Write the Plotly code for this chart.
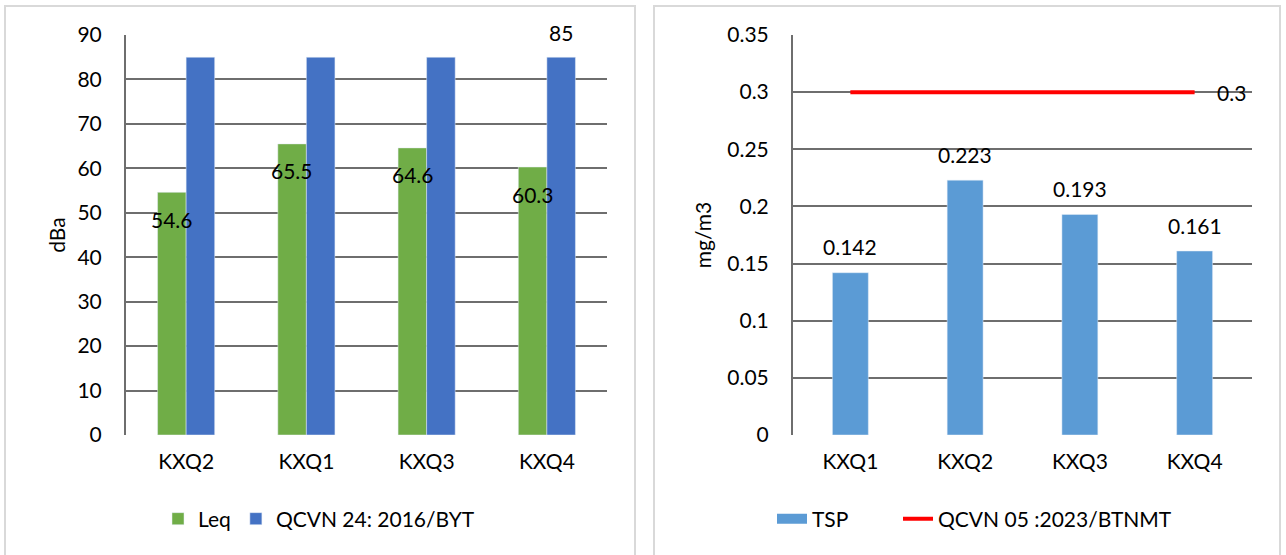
import plotly.graph_objects as go

# ---- data ----
noise_sites = ["KXQ2", "KXQ1", "KXQ3", "KXQ4"]
leq_values = [54.6, 65.5, 64.6, 60.3]
qcvn24_values = [85, 85, 85, 85]
noise_ticks = [0, 10, 20, 30, 40, 50, 60, 70, 80, 90]

tsp_sites = ["KXQ1", "KXQ2", "KXQ3", "KXQ4"]
tsp_values = [0.142, 0.223, 0.193, 0.161]
qcvn05_values = [0.3, 0.3, 0.3, 0.3]
tsp_ticks = [0, 0.05, 0.1, 0.15, 0.2, 0.25, 0.3, 0.35]
tsp_tick_text = ["0", "0.05", "0.1", "0.15", "0.2", "0.25", "0.3", "0.35"]

W, H = 1286, 555
FONT = "Lato"
FS = 21
TXT = "#000000"
GRID = "#6e6e6e"
GREEN = "#70AD47"
BLUE = "#4472C4"
LBLUE = "#5B9BD5"
RED = "#FF0000"

def px(x):
    return x / W

def py(y):
    return 1 - y / H

fig = go.Figure()

# left chart
fig.add_trace(go.Bar(x=noise_sites, y=leq_values, name="Leq", marker_color=GREEN,
                     xaxis="x", yaxis="y", legend="legend"))
fig.add_trace(go.Bar(x=noise_sites, y=qcvn24_values, name="QCVN 24: 2016/BYT",
                     marker_color=BLUE, xaxis="x", yaxis="y", legend="legend"))

# right chart
fig.add_trace(go.Bar(x=tsp_sites, y=tsp_values, name="TSP", marker_color=LBLUE,
                     width=0.313, xaxis="x2", yaxis="y2", showlegend=False))
fig.add_trace(go.Scatter(x=[None], y=[None], mode="lines", name="TSP",
                         line=dict(color=LBLUE, width=13), xaxis="x2", yaxis="y2",
                         legend="legend2", hoverinfo="skip"))
fig.add_trace(go.Scatter(x=tsp_sites, y=qcvn05_values, mode="lines",
                         name="QCVN 05 :2023/BTNMT", line=dict(color=RED, width=4),
                         xaxis="x2", yaxis="y2", legend="legend3"))

lab_font = dict(family=FONT, size=FS, color=TXT)
annotations = []
for s, v in zip(noise_sites, leq_values):
    annotations.append(dict(x=s, y=v, xref="x", yref="y", text=f"{v}", showarrow=False,
                            xshift=-14, yshift=-27, font=lab_font))
annotations.append(dict(x=noise_sites[-1], y=qcvn24_values[-1], xref="x", yref="y",
                        text=f"{qcvn24_values[-1]}", showarrow=False, xshift=14, yshift=25,
                        font=lab_font))
for s, v in zip(tsp_sites, tsp_values):
    annotations.append(dict(x=s, y=v, xref="x2", yref="y2", text=f"{v}", showarrow=False,
                            yshift=26, font=lab_font))
annotations.append(dict(x=tsp_sites[-1], y=qcvn05_values[-1], xref="x2", yref="y2",
                        text=f"{qcvn05_values[-1]}", showarrow=False, xshift=37,
                        font=lab_font))

shapes = [
    dict(type="rect", xref="paper", yref="paper", x0=px(5), x1=px(635), y0=py(570), y1=py(6),
         line=dict(color="#D9D9D9", width=2), fillcolor="rgba(0,0,0,0)", layer="below"),
    dict(type="rect", xref="paper", yref="paper", x0=px(654), x1=px(1280), y0=py(570), y1=py(6),
         line=dict(color="#D9D9D9", width=2), fillcolor="rgba(0,0,0,0)", layer="below"),
]

yaxis_common = dict(showgrid=True, gridcolor=GRID, gridwidth=2, zeroline=False,
                    tickfont=lab_font, ticks="", fixedrange=True, automargin=False,
                    showline=True, linecolor=GRID, linewidth=2, ticklabelstandoff=18)
xaxis_common = dict(showgrid=False, showline=False, tickfont=lab_font, ticklabelstandoff=12,
                    ticks="", automargin=False, fixedrange=True)
leg_common = dict(orientation="h", yanchor="middle", xanchor="left", font=lab_font,
                  bgcolor="rgba(0,0,0,0)", itemclick=False, itemdoubleclick=False)

fig.update_layout(
    width=W, height=H, autosize=False,
    margin=dict(l=0, r=0, t=0, b=0, autoexpand=False),
    paper_bgcolor="white", plot_bgcolor="white",
    font=lab_font,
    barmode="group", bargap=0.525,
    annotations=annotations, shapes=shapes,
    xaxis=dict(domain=[px(126), px(607)], anchor="y", **xaxis_common),
    yaxis=dict(domain=[py(435), py(35)], anchor="x", range=[0, 90], tickvals=noise_ticks,
               title=dict(text="dBa", font=lab_font, standoff=6), **yaxis_common),
    xaxis2=dict(domain=[px(793), px(1252)], anchor="y2", **xaxis_common),
    yaxis2=dict(domain=[py(435), py(35)], anchor="x2", range=[0, 0.35], tickvals=tsp_ticks,
                ticktext=tsp_tick_text,
                title=dict(text="mg/m3", font=lab_font, standoff=10), **yaxis_common),
    legend=dict(x=px(158), y=py(519), **leg_common),
    legend2=dict(x=px(772), y=py(519), **leg_common),
    legend3=dict(x=px(898), y=py(519), **leg_common),
)

fig.write_html("out.html", config={"displayModeBar": False},
               post_script="document.body.style.margin='0';")
